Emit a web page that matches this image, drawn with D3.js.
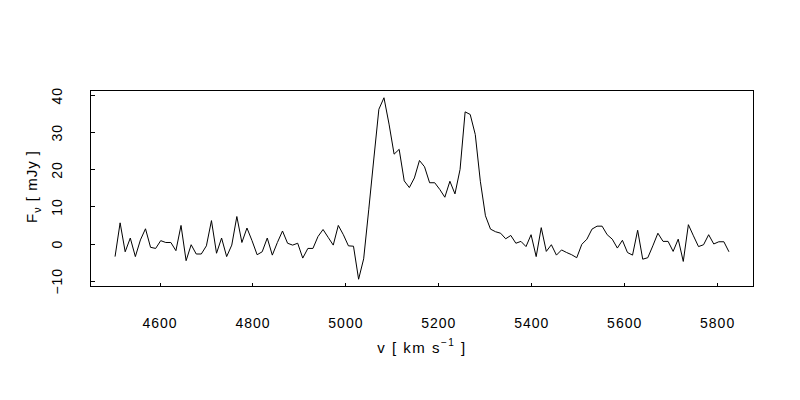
<!DOCTYPE html>
<html>
<head>
<meta charset="utf-8">
<script src="https://cdn.jsdelivr.net/npm/d3@7"></script>
<style>
  html, body { margin: 0; padding: 0; background: #fff; }
  svg text { font-family: "Liberation Sans", Arial, sans-serif; fill: #000; }
</style>
</head>
<body>
<svg id="chart" width="800" height="400"></svg>
<script>
// velocity channels [km/s]
const velocity = [
  4504.2, 4515.1, 4526.0, 4537.0, 4547.9, 4558.8, 4569.7, 4580.6, 4591.6, 4602.5,
  4613.4, 4624.3, 4635.2, 4646.2, 4657.1, 4668.0, 4678.9, 4689.8, 4700.8, 4711.7,
  4722.6, 4733.5, 4744.4, 4755.4, 4766.3, 4777.2, 4788.1, 4799.0, 4810.0, 4820.9,
  4831.8, 4842.7, 4853.6, 4864.6, 4875.5, 4886.4, 4897.3, 4908.2, 4919.2, 4930.1,
  4941.0, 4951.9, 4962.8, 4973.8, 4984.7, 4995.6, 5006.5, 5017.4, 5028.4, 5039.3,
  5050.2, 5061.1, 5072.0, 5083.0, 5093.9, 5104.8, 5115.7, 5126.6, 5137.6, 5148.5,
  5159.4, 5170.3, 5181.2, 5192.2, 5203.1, 5214.0, 5224.9, 5235.8, 5246.8, 5257.7,
  5268.6, 5279.5, 5290.4, 5301.4, 5312.3, 5323.2, 5334.1, 5345.0, 5356.0, 5366.9,
  5377.8, 5388.7, 5399.6, 5410.6, 5421.5, 5432.4, 5443.3, 5454.2, 5465.2, 5476.1,
  5487.0, 5497.9, 5508.8, 5519.8, 5530.7, 5541.6, 5552.5, 5563.4, 5574.4, 5585.3,
  5596.2, 5607.1, 5618.0, 5629.0, 5639.9, 5650.8, 5661.7, 5672.6, 5683.6, 5694.5,
  5705.4, 5716.3, 5727.2, 5738.2, 5749.1, 5760.0, 5770.9, 5781.8, 5792.8, 5803.7,
  5814.6, 5825.5
];
// flux density [mJy]
const flux = [
  -3.5, 5.6, -2.2, 1.5, -3.5, 1.0, 4.0, -1.0, -1.3, 0.8,
  0.3, 0.3, -1.9, 4.9, -4.6, -0.3, -2.8, -2.8, -0.6, 6.2,
  -2.6, 1.5, -3.5, -0.4, 7.3, 0.3, 4.2, 0.8, -3.0, -2.2,
  1.5, -3.1, 0.3, 3.4, 0.1, -0.4, 0.1, -3.9, -1.3, -1.3,
  1.9, 3.8, 1.7, -0.4, 4.9, 2.4, -0.6, -0.7, -9.6, -4.1,
  9.1, 22.8, 36.2, 39.3, 32.2, 24.1, 25.4, 16.9, 15.1, 17.7,
  22.4, 20.7, 16.4, 16.4, 14.6, 12.5, 16.8, 13.4, 20.0, 35.5,
  34.8, 29.4, 16.8, 7.5, 3.9, 3.2, 2.8, 1.3, 2.2, 0.1,
  0.6, -0.8, 2.4, -3.5, 4.3, -2.1, -0.3, -3.1, -1.7, -2.4,
  -3.0, -3.8, -0.2, 1.2, 3.9, 4.7, 4.7, 2.4, 1.2, -1.2,
  0.9, -2.4, -3.1, 3.6, -4.2, -3.8, -0.6, 2.8, 0.6, 0.6,
  -2.1, 1.2, -4.8, 5.1, 2.1, -0.8, -0.3, 2.4, -0.1, 0.5,
  0.5, -2.2
];
const xTicks = [4600, 4800, 5000, 5200, 5400, 5600, 5800];
const yTicks = [-10, 0, 10, 20, 30, 40];

const svg = d3.select("#chart");
const L = 90.5, R = 753.5, T = 90.5, B = 286.5;

function padded(ext) {
  const d = (ext[1] - ext[0]) * 0.04;
  return [ext[0] - d, ext[1] + d];
}
const x = d3.scaleLinear().domain(padded(d3.extent(velocity))).range([L, R]);
const y = d3.scaleLinear().domain(padded(d3.extent(flux))).range([B, T]);

const data = velocity.map((v, i) => [v, flux[i]]);

// data line
svg.append("path")
  .datum(data)
  .attr("fill", "none")
  .attr("stroke", "#000")
  .attr("stroke-width", 1)
  .attr("d", d3.line().x(d => x(d[0])).y(d => y(d[1])));

// box
svg.append("rect")
  .attr("x", L).attr("y", T)
  .attr("width", R - L).attr("height", B - T)
  .attr("fill", "none").attr("stroke", "#000").attr("stroke-width", 1);

const fmt = d3.format("d");

// x axis (inward ticks)
const xAxis = d3.axisBottom(x).tickValues(xTicks).tickFormat(fmt)
  .tickSizeInner(-4).tickSizeOuter(0);
const gx = svg.append("g").attr("transform", `translate(0,${B})`).call(xAxis);
gx.select(".domain").remove();
gx.selectAll(".tick line").attr("stroke", "#000").attr("shape-rendering", "crispEdges");
gx.selectAll(".tick text")
  .attr("y", 0).attr("dy", null)
  .attr("transform", "translate(0,41)")
  .style("font-size", "14px").style("letter-spacing", "1px");

// y axis (inward ticks, rotated labels)
const yAxis = d3.axisLeft(y).tickValues(yTicks).tickFormat(fmt)
  .tickSizeInner(-4).tickSizeOuter(0);
const gy = svg.append("g").attr("transform", `translate(${L},0)`).call(yAxis);
gy.select(".domain").remove();
gy.selectAll(".tick line").attr("stroke", "#000").attr("shape-rendering", "crispEdges");
gy.selectAll(".tick text")
  .attr("x", null).attr("dy", null)
  .attr("text-anchor", "middle")
  .attr("transform", "translate(-28.5,0) rotate(-90)")
  .style("font-size", "14px").style("letter-spacing", "1px");

// x label
const xl = svg.append("text")
  .attr("x", (L + R) / 2).attr("y", 353)
  .attr("text-anchor", "middle")
  .style("font-size", "15px").style("letter-spacing", "1.5px");
xl.append("tspan").text("v [ km s");
xl.append("tspan").attr("dy", -7).style("font-size", "10px").text("\u22121");
xl.append("tspan").attr("dy", 7).text(" ]");

// y label
const yl = svg.append("text")
  .attr("transform", `translate(37,${(T + B) / 2 - 2}) rotate(-90)`)
  .attr("text-anchor", "middle")
  .style("font-size", "15px").style("letter-spacing", "1px");
yl.append("tspan").text("F");
yl.append("tspan").attr("dy", 4).style("font-size", "11px").text("\u03bd");
yl.append("tspan").attr("dy", -4).text(" [ mJy ]");
</script>
</body>
</html>
